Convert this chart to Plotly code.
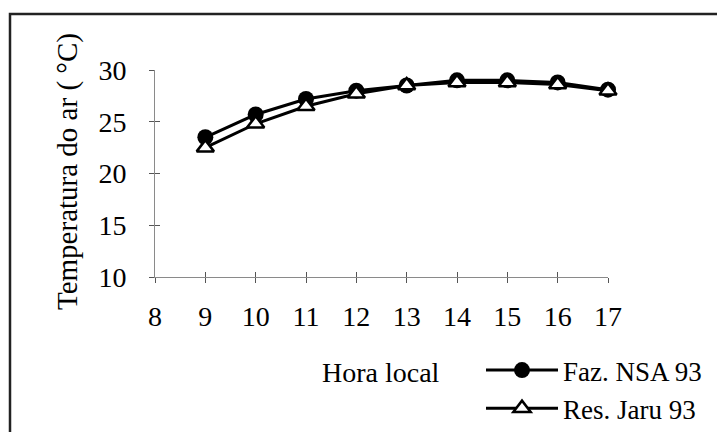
import plotly.graph_objects as go

# Air temperature by local hour at two sites (1993)
horas = [9, 10, 11, 12, 13, 14, 15, 16, 17]
faz_nsa_93 = [23.5, 25.7, 27.2, 28.0, 28.5, 29.0, 29.0, 28.8, 28.1]
res_jaru_93 = [22.5, 24.8, 26.5, 27.7, 28.5, 28.8, 28.8, 28.6, 28.0]

x_ticks = [8, 9, 10, 11, 12, 13, 14, 15, 16, 17]
y_ticks = [10, 15, 20, 25, 30]

FONT = "Liberation Serif, Times New Roman, serif"
FS = 28

fig = go.Figure()

fig.add_trace(go.Scatter(
    x=horas, y=faz_nsa_93, name="Faz. NSA 93", mode="lines+markers",
    line=dict(color="black", width=3),
    marker=dict(symbol="circle", size=16, color="black"),
    cliponaxis=False, legendgroup="a",
))
fig.add_trace(go.Scatter(
    x=horas, y=res_jaru_93, name="Res. Jaru 93", mode="lines+markers",
    line=dict(color="black", width=3),
    marker=dict(symbol="triangle-up", size=15, color="white",
                line=dict(color="black", width=2.5)),
    cliponaxis=False, legendgroup="b",
))

# plot area: x 155..608 px, y 70..277 px
L, R, T, B = 155, 608, 70, 277
W, H = 717, 432

def px(x):
    return (x - L) / (R - L)

def py(y):
    return (B - y) / (B - T)

axis_common = dict(
    showgrid=False, zeroline=False, showline=True,
    linecolor="#8a8a8a", linewidth=1,
    ticks="outside", ticklen=5, tickcolor="#555", tickwidth=1,
    tickfont=dict(family=FONT, size=FS, color="black"),
)

fig.update_layout(
    width=W, height=H,
    margin=dict(l=L, r=W - R, t=T, b=H - B, autoexpand=False),
    paper_bgcolor="white", plot_bgcolor="white",
    xaxis=dict(range=[8, 17], tickvals=x_ticks, ticklabelstandoff=9, **axis_common),
    yaxis=dict(range=[10, 30], tickvals=y_ticks, ticklabelstandoff=17, **axis_common),
    # inward half of the crossing tick marks
    xaxis2=dict(overlaying="x", matches="x", range=[8, 17], tickvals=x_ticks,
                ticks="inside", ticklen=5, tickcolor="#555", showticklabels=False,
                showgrid=False, zeroline=False, showline=False),
    yaxis2=dict(overlaying="y", matches="y", range=[10, 30], tickvals=y_ticks,
                ticks="inside", ticklen=5, tickcolor="#555", showticklabels=False,
                showgrid=False, zeroline=False, showline=False),
    showlegend=True,
    legend=dict(
        x=px(481), y=py(346), xanchor="left", yanchor="top",
        font=dict(family=FONT, size=27, color="black"),
        bgcolor="rgba(0,0,0,0)", itemwidth=72, tracegroupgap=0,
        traceorder="grouped",
    ),
    font=dict(family=FONT, size=FS, color="black"),
)

# empty trace so the overlay axes are drawn
fig.add_trace(go.Scatter(x=[None], y=[None], xaxis="x2", yaxis="y2",
                         showlegend=False, hoverinfo="skip"))

fig.add_annotation(
    text="Temperatura do ar ( °C)", textangle=-90,
    xref="paper", yref="paper", x=px(67), y=py(172),
    xanchor="center", yanchor="middle",
    showarrow=False, font=dict(family=FONT, size=29, color="black"),
)
fig.add_annotation(
    text="Hora local",
    xref="paper", yref="paper", x=px(381), y=py(372),
    xanchor="center", yanchor="middle",
    showarrow=False, font=dict(family=FONT, size=FS, color="black"),
)

# outer frame
fig.add_shape(type="rect", xref="paper", yref="paper",
              x0=px(10), x1=px(722), y0=py(440), y1=py(14),
              line=dict(color="#222", width=2.5), fillcolor="rgba(0,0,0,0)")

fig.write_html("out.html")
